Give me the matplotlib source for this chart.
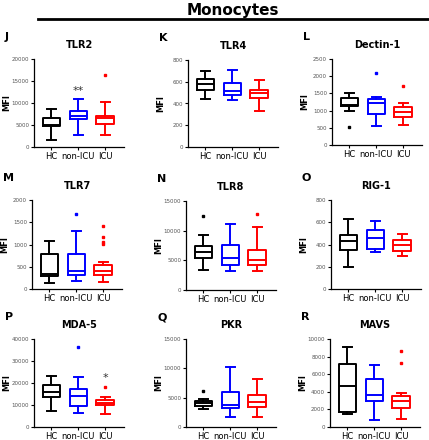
import matplotlib
matplotlib.use("Agg")
from matplotlib import pyplot as plt

groups = ["HC", "non-ICU", "ICU"]
colors = ["black", "#0000ff", "#ff0000"]

# box stats per panel: (whislo, q1, med, q3, whishi) for HC, non-ICU, ICU
tlr2 = [(1500, 4700, 5100, 6700, 8600), (2750, 6400, 7150, 8200, 10900), (2750, 5200, 6550, 7150, 10300)]
tlr2_out = [[], [], [16400]]
tlr4 = [(441, 527, 576, 622, 699), (429, 481, 518, 592, 708), (334, 454, 500, 527, 619)]
tlr4_out = [[], [], []]
dectin1 = [(996, 1143, 1172, 1367, 1523), (557, 898, 1221, 1328, 1387), (576, 801, 957, 1094, 1211)]
dectin1_out = [[518], [2100], [1719]]
tlr7 = [(136, 288, 341, 788, 1083), (174, 311, 409, 795, 1311), (152, 318, 409, 530, 606)]
tlr7_out = [[], [1682], [1424, 1167, 1053, 1008]]
tlr8 = [(3330, 5360, 6370, 7440, 9250), (3160, 4290, 5410, 7610, 11110), (3160, 4290, 5130, 6820, 10550)]
tlr8_out = [[12520], [], [12750]]
rig1 = [(201, 351, 428, 485, 626), (330, 363, 458, 533, 611), (294, 345, 398, 443, 494)]
rig1_out = [[], [], []]
mda5 = [(7270, 13480, 15900, 19090, 23180), (6520, 9390, 14240, 17420, 22880), (5900, 9850, 10900, 12270, 13640)]
mda5_out = [[], [36360], [18180]]
pkr = [(3140, 3590, 4050, 4390, 4730), (1650, 3190, 3710, 6050, 10270), (1770, 3370, 4340, 5530, 8160)]
pkr_out = [[6220], [], []]
mavs = [(1480, 1700, 4660, 7200, 9130), (830, 2920, 3640, 5490, 7010), (870, 2200, 2920, 3520, 3900)]
mavs_out = [[], [], [8670, 7270]]

panels = [
    ("J", "TLR2", tlr2, tlr2_out, 20000, 5000, (34, 59, 147)),
    ("K", "TLR4", tlr4, tlr4_out, 800, 200, (188, 60, 147)),
    ("L", "Dectin-1", dectin1, dectin1_out, 2500, 500, (332, 59, 145)),
    ("M", "TLR7", tlr7, tlr7_out, 2000, 500, (32, 200, 289)),
    ("N", "TLR8", tlr8, tlr8_out, 15000, 5000, (186, 201, 290)),
    ("O", "RIG-1", rig1, rig1_out, 800, 200, (331, 200, 289)),
    ("P", "MDA-5", mda5, mda5_out, 40000, 10000, (34, 339, 427)),
    ("Q", "PKR", pkr, pkr_out, 15000, 5000, (186, 339, 427)),
    ("R", "MAVS", mavs, mavs_out, 10000, 2000, (330, 339, 427)),
]

W, H = 429, 440
fig = plt.figure(figsize=(W / 100, H / 100), dpi=100)

fig.text(233 / W, 1 - 10 / H, "Monocytes", ha="center", va="center", fontsize=11, fontweight="bold")
fig.add_artist(plt.Line2D([38 / W, 1.0], [1 - 19 / H, 1 - 19 / H], color="black", lw=2))

for letter, name, stats, outs, ymax, step, (x0, ytop, ybot) in panels:
    ax = fig.add_axes([x0 / W, 1 - ybot / H, 90 / W, (ybot - ytop) / H])
    for i in range(3):
        lo, q1, med, q3, hi = stats[i]
        st = [dict(whislo=lo, q1=q1, med=med, q3=q3, whishi=hi, fliers=outs[i])]
        c = colors[i]
        ax.bxp(st, positions=[i + 1], widths=0.65, showfliers=True,
               boxprops=dict(color=c, lw=1.4),
               whiskerprops=dict(color=c, lw=1.4),
               capprops=dict(color=c, lw=1.4),
               medianprops=dict(color=c, lw=1.4),
               flierprops=dict(marker="s", markersize=1.6, markerfacecolor=c, markeredgecolor=c))
    ax.set_xlim(0.35, 3.7)
    ax.set_ylim(0, ymax)
    ax.set_yticks(range(0, ymax + 1, step))
    ax.set_xticks([1, 2, 3])
    ax.set_xticklabels(groups)
    for s in ["top", "right"]:
        ax.spines[s].set_visible(False)
    for s in ["left", "bottom"]:
        ax.spines[s].set_linewidth(0.9)
    ax.tick_params(axis="y", labelsize=4, labelcolor="#555555", length=2.5, width=0.8, pad=1)
    ax.tick_params(axis="x", labelsize=6, length=2.5, width=0.8, pad=1)
    ax.set_ylabel("MFI", fontsize=6, fontweight="bold")
    ax.yaxis.set_label_coords(-23 / 90, 0.5)
    ax.set_title(name, fontsize=7, fontweight="bold", pad=8)
    fig.text((x0 - 29) / W, 1 - (ytop - 22) / H, letter, fontsize=8, fontweight="bold", va="center")

    if name == "TLR2":
        ax.text(2, 12800, "**", ha="center", va="center", fontsize=8, color="#333333")
    if name == "MDA-5":
        ax.text(3, 22500, "*", ha="center", va="center", fontsize=8, color="#333333")

fig.savefig("out.png", dpi=100)
